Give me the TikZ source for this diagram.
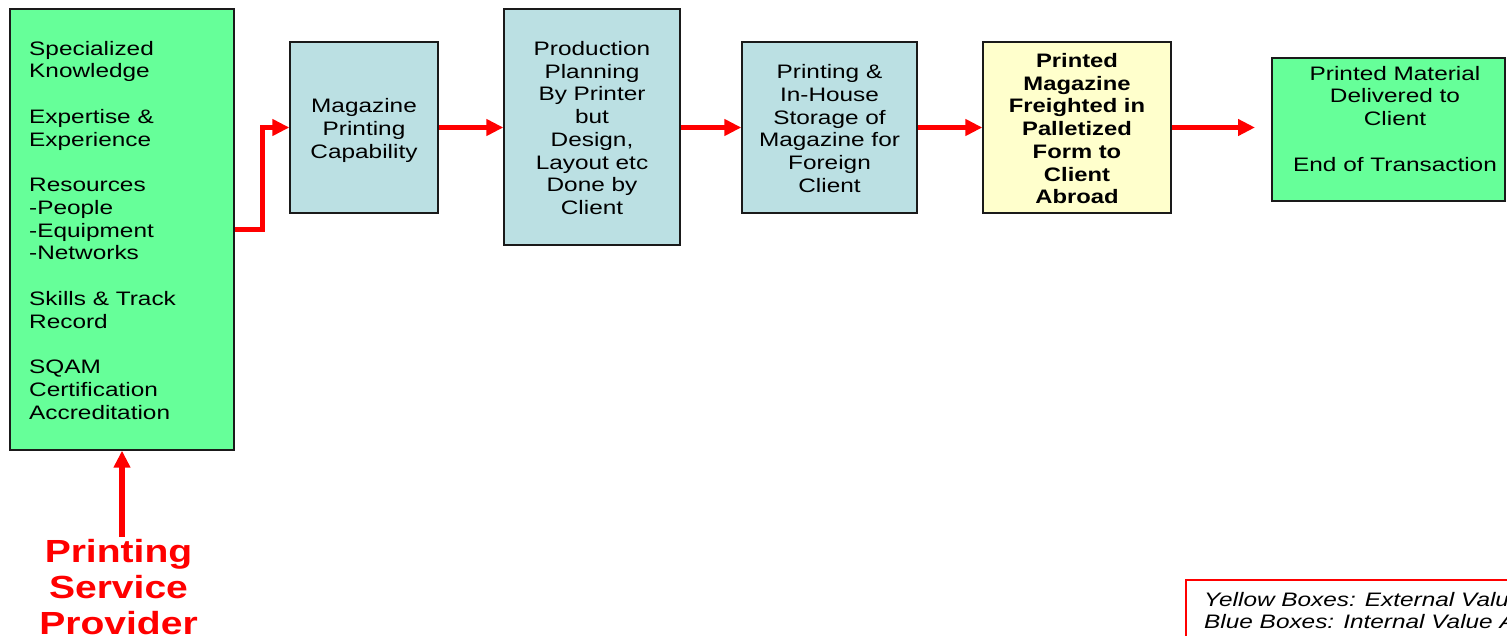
\documentclass[tikz,border=0pt]{standalone}
\usepackage{fontspec}
\setmainfont{Liberation Sans}
\usetikzlibrary{arrows.meta}

\definecolor{boxgreen}{HTML}{66FF99}
\definecolor{boxblue}{HTML}{BBE0E3}
\definecolor{boxyellow}{HTML}{FFFFCC}
\definecolor{edgegray}{HTML}{1A1A1A}

% widened lettering, as set in the value-chain slide
\newcommand\hstretch[2][1.25]{\scalebox{#1}[1]{#2}}
\newcommand\bodysize{\fontsize{19.5}{22.75}\selectfont}

\begin{document}
\begin{tikzpicture}[x=1pt,y=-1pt,
  box/.style={draw=edgegray, line width=1.3pt, inner sep=0pt},
  greenbox/.style={box, fill=boxgreen},
  bluebox/.style={box, fill=boxblue},
  yellowbox/.style={box, fill=boxyellow},
  boxtext/.style={inner sep=0pt, font=\bodysize, yshift=-3.5pt},
  flow/.style={draw=red, line width=5.5pt, line join=miter,
    -{Triangle[length=17pt,width=16pt]}}]

\useasboundingbox (0,0) rectangle (1507,635);
\clip (0,0) rectangle (1507,635);
\fill[white] (0,0) rectangle (1507,635);

% stages of the chain
\node[greenbox, minimum width=224pt, minimum height=441pt] (res) at (122,229.5) {};
\node[bluebox, minimum width=148pt, minimum height=171pt] (cap) at (364,127.5) {};
\node[bluebox, minimum width=176pt, minimum height=236pt] (plan) at (592,127) {};
\node[bluebox, minimum width=175pt, minimum height=171pt] (store) at (829.5,127.5) {};
\node[yellowbox, minimum width=188pt, minimum height=171pt] (ship) at (1077,127.5) {};
\node[greenbox, minimum width=233pt, minimum height=143pt] (done) at (1388.5,129.5) {};

% texts of the stages
\node[inner sep=0pt, font=\bodysize, anchor=north west] (restext) at (29,39)
  {\hstretch{\begin{tabular}{@{}l@{}}
   Specialized\\ Knowledge\\ \\
   Expertise \&\\ Experience\\ \\
   Resources\\ -People\\ -Equipment\\ -Networks\\ \\
   Skills \& Track\\ Record\\ \\
   SQAM\\ Certification\\ Accreditation
  \end{tabular}}};

\node[boxtext] (captext) at (cap.center)
  {\hstretch{\begin{tabular}{@{}c@{}}Magazine\\ Printing\\ Capability\end{tabular}}};

\node[boxtext] (plantext) at (plan.center)
  {\hstretch{\begin{tabular}{@{}c@{}}Production\\ Planning\\ By Printer\\ but\\ Design,\\ Layout etc\\ Done by\\ Client\end{tabular}}};

\node[boxtext] (storetext) at (store.center)
  {\hstretch{\begin{tabular}{@{}c@{}}Printing \&\\ In-House\\ Storage of\\ Magazine for\\ Foreign\\ Client\end{tabular}}};

\node[boxtext, font=\bodysize\bfseries] (shiptext) at (ship.center)
  {\hstretch[1.22]{\begin{tabular}{@{}c@{}}Printed\\ Magazine\\ Freighted in\\ Palletized\\ Form to\\ Client\\ Abroad\end{tabular}}};

\node[inner sep=0pt, font=\bodysize, anchor=north] (donetext) at (1395,64)
  {\hstretch{\begin{tabular}{@{}c@{}}Printed Material\\ Delivered to\\ Client\\ \\ End of Transaction\end{tabular}}};

% provider
\node[inner sep=0pt, text=red, font=\fontsize{32}{36}\selectfont\bfseries, anchor=north] (prov) at (118.5,537)
  {\hstretch[1.22]{\begin{tabular}{@{}c@{}}Printing\\ Service\\ Provider\end{tabular}}};

% key
\node[draw=red, line width=1.6pt, inner sep=0pt, anchor=north west,
  minimum width=420pt, minimum height=90pt] (key) at (1185,579) {};
\node[inner sep=0pt, font=\bodysize\itshape, anchor=north west] (keytext) at (1204,590)
  {\hstretch{\begin{tabular}{@{}l@{}}Yellow Boxes: External Value Added\\ Blue Boxes: Internal Value Added\end{tabular}}};

% flow of the transaction
\coordinate (finish) at (1255,127.5);
\draw[flow] (res.east) -- ++(28,0) |- (cap.west);
\draw[flow] (cap.east) -- (cap.east -| plan.west);
\draw[flow] (plan.east |- cap.east) -- (store.west);
\draw[flow] (store.east) -- (ship.west);
\draw[flow] (ship.east) -- (finish);
\draw[flow] (res.south |- prov.north) -- (res.south);

\end{tikzpicture}
\end{document}
